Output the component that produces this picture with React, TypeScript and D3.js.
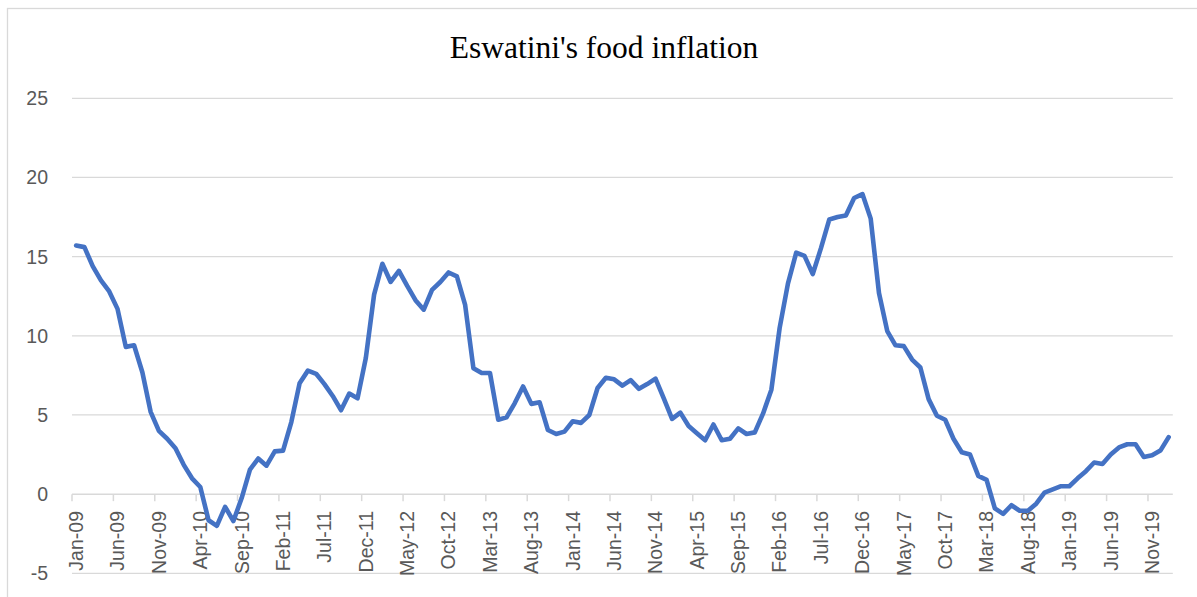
import React from "react";
import * as d3 from "d3";

const MONTHS = ["Jan", "Feb", "Mar", "Apr", "May", "Jun", "Jul", "Aug", "Sep", "Oct", "Nov", "Dec"];
const YEARS = ["09", "10", "11", "12", "13", "14", "15", "16", "17", "18", "19", "20"];

// Monthly categories Jan-09 .. Jan-20
const categories: string[] = [];
YEARS.forEach((y) => MONTHS.forEach((m) => categories.push(`${m}-${y}`)));
categories.splice(133);

const foodInflation = [
  15.7, 15.6, 14.4, 13.5, 12.8, 11.7, 9.3, 9.4, 7.7, 5.2, 4.0, 3.5,
  2.9, 1.85, 1.0, 0.45, -1.65, -2.0, -0.8, -1.7, -0.25, 1.55, 2.25, 1.8,
  2.7, 2.75, 4.55, 7.0, 7.8, 7.6, 6.95, 6.2, 5.3, 6.35, 6.05, 8.6,
  12.6, 14.55, 13.4, 14.1, 13.15, 12.25, 11.65, 12.9, 13.4, 14.0, 13.75, 11.95,
  7.95, 7.65, 7.65, 4.7, 4.85, 5.75, 6.8, 5.7, 5.8, 4.05, 3.8, 3.95,
  4.6, 4.5, 5.0, 6.7, 7.35, 7.25, 6.85, 7.2, 6.65, 6.95, 7.3, 6.05,
  4.75, 5.15, 4.3, 3.85, 3.4, 4.4, 3.4, 3.5, 4.15, 3.8, 3.9, 5.1,
  6.6, 10.5, 13.3, 15.25, 15.05, 13.9, 15.55, 17.35, 17.5, 17.6, 18.7, 18.95,
  17.4, 12.7, 10.3, 9.4, 9.35, 8.5, 8.0, 6.0, 4.95, 4.7, 3.5, 2.65,
  2.5, 1.15, 0.9, -0.9, -1.25, -0.7, -1.05, -1.05, -0.6, 0.1, 0.3, 0.5,
  0.5, 1.0, 1.45, 2.0, 1.9, 2.5, 2.95, 3.15, 3.15, 2.35, 2.45, 2.75,
  3.6,
];

const tickLabels = [
  "Jan-09", "Jun-09", "Nov-09", "Apr-10", "Sep-10", "Feb-11", "Jul-11", "Dec-11", "May-12",
  "Oct-12", "Mar-13", "Aug-13", "Jan-14", "Jun-14", "Nov-14", "Apr-15", "Sep-15", "Feb-16",
  "Jul-16", "Dec-16", "May-17", "Oct-17", "Mar-18", "Aug-18", "Jan-19", "Jun-19", "Nov-19",
];

const yTicks = [-5, 0, 5, 10, 15, 20, 25];

const title = "Eswatini's food inflation";

const W = 1197;
const H = 597;

export default function App() {
  const x = d3.scaleBand<string>().domain(categories).range([72, 1172.8]).padding(0);
  const y = d3.scaleLinear().domain([-5, 25]).range([573.3, 98.3]);

  const line = d3
    .line<number>()
    .x((_, i) => (x(categories[i]) as number) + x.bandwidth() / 2)
    .y((d) => y(d));

  const gridColor = "#d9d9d9";
  const labelColor = "#595959";
  const font = "'Liberation Sans', Arial, sans-serif";

  return (
    <div style={{ position: "absolute", left: 0, top: 0, width: W, height: H, background: "#fff" }}>
      <svg width={W} height={H} style={{ display: "block" }}>
        <rect x={0} y={0} width={W} height={H} fill="#fff" />
        <rect x={7.5} y={8.5} width={W + 20} height={H + 20} fill="none" stroke={gridColor} strokeWidth={1.3} />
        <text
          x={604}
          y={58}
          textAnchor="middle"
          fontFamily="'Liberation Serif', 'Times New Roman', serif"
          fontSize={31.5}
          fill="#000"
        >
          {title}
        </text>
        {yTicks.map((t) => (
          <g key={t}>
            {t !== 0 && (
              <line x1={72} x2={1172.8} y1={y(t)} y2={y(t)} stroke={gridColor} strokeWidth={1.3} />
            )}
            <text
              x={48}
              y={y(t)}
              dy="0.36em"
              textAnchor="end"
              fontFamily={font}
              fontSize={19.5}
              fill={labelColor}
            >
              {t}
            </text>
          </g>
        ))}
        {tickLabels.map((lab) => {
          const bx = x(lab) as number;
          const cx = bx + x.bandwidth() / 2;
          return (
            <g key={lab}>
              <text
                transform={`translate(${cx},${511}) rotate(-90)`}
                dy="0.35em"
                textAnchor="end"
                fontFamily={font}
                fontSize={19.5}
                fill={labelColor}
              >
                {lab}
              </text>
            </g>
          );
        })}
        <line x1={72} x2={1172.8} y1={y(0)} y2={y(0)} stroke={gridColor} strokeWidth={1.5} />
        {tickLabels.map((lab) => {
          const bx = x(lab) as number;
          return <line key={"t" + lab} x1={bx} x2={bx} y1={y(0)} y2={y(0) + 7} stroke={gridColor} strokeWidth={1.5} />;
        })}
        <path
          d={line(foodInflation) || ""}
          fill="none"
          stroke="#4472C4"
          strokeWidth={4.6}
          strokeLinejoin="round"
          strokeLinecap="round"
        />
      </svg>
    </div>
  );
}
